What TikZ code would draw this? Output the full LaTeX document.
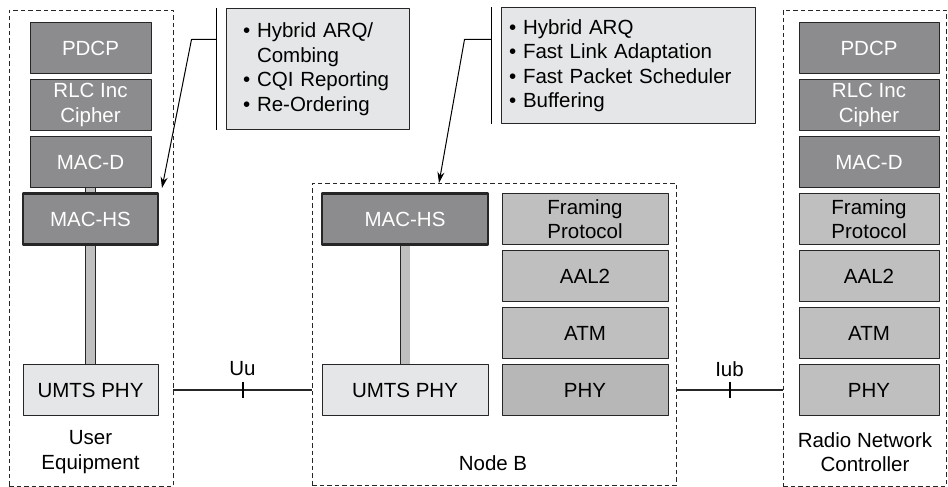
\documentclass[tikz,border=0pt]{standalone}
\usepackage{fontspec}
\setmainfont{Liberation Sans}
\usetikzlibrary{positioning,arrows.meta,backgrounds}
\definecolor{dkgray}{RGB}{140,140,142}
\definecolor{mdgray}{RGB}{191,191,192}
\definecolor{phgray}{RGB}{183,183,184}
\definecolor{ltgray}{RGB}{229,230,231}

\begin{document}
\begin{tikzpicture}[x=1pt,y=-1pt,font=\fontsize{20.5}{24.5}\selectfont,line join=round,>={Stealth[length=11pt,width=7pt]},
  lay/.style={draw=black!85,line width=0.8,minimum height=51,inner sep=0,align=center},
  dk/.style={lay,fill=dkgray,text=white},
  md/.style={lay,fill=mdgray},
  ph/.style={lay,fill=phgray},
  lt/.style={lay,fill=ltgray},
  hs/.style={dk,line width=2.4},
  zone/.style={draw=black!85,line width=0.9,dash pattern=on 4.5pt off 3pt,inner sep=0},
  bar/.style={draw=black!85,line width=0.7,double=mdgray,double distance=9pt},
  link/.style={draw=black!85,line width=1.3},
  note/.style={draw=black!85,line width=1,fill=ltgray,align=left,inner ysep=0pt}]
\useasboundingbox (0,0) rectangle (948,487);
% equipment frames
\node[zone,minimum width=164,minimum height=476] (ue) at (91,248) {};
\node[zone,minimum width=364,minimum height=302] (nb) at (494,334) {};
\node[zone,minimum width=163,minimum height=476] (rnc) at (864.5,248) {};
\node[align=center] (uename) at (90.5,452) {User\\Equipment};
\node (nbname) at (493,463) {Node B};
\node[align=center] (rncname) at (865,452) {Radio Network\\Controller};
% user equipment stack
\foreach \t/\s [count=\i] in {PDCP/dk,{RLC Inc\\Cipher}/dk,MAC-D/dk}
  \node[\s,minimum width=121] (ue\i) at (90.5,{48+57*(\i-1)}) {\t};
\node[hs,minimum width=135] (uehs) at (90.5,219) {MAC-HS};
\node[lt,minimum width=135] (uephy) at (90.5,390) {UMTS PHY};
% node b stacks
\node[hs,minimum width=166] (nbhs) at (405,219) {MAC-HS};
\node[lt,minimum width=166] (nbphy) at (405,390) {UMTS PHY};
\foreach \t/\s [count=\i from 4] in {{Framing\\Protocol}/md,AAL2/md,ATM/md,PHY/ph}
  \node[\s,minimum width=166] (nb\i) at (585,{48+57*(\i-1)}) {\t};
% rnc stack
\foreach \t/\s [count=\i] in {PDCP/dk,{RLC Inc\\Cipher}/dk,MAC-D/dk,{Framing\\Protocol}/md,AAL2/md,ATM/md,PHY/md}
  \node[\s,minimum width=140] (rnc\i) at (869,{48+57*(\i-1)}) {\t};
\begin{scope}[on background layer]
\draw[bar] (ue3) -- (uehs);
\draw[bar] (uehs) -- (uephy);
\draw[bar] (nbhs) -- (nbphy);
\end{scope}
% interfaces
\draw[link] (uephy -| ue.east) -- coordinate[midway] (uu) (uephy -| nb.west);
\draw[link] (nb7 -| nb.east) -- coordinate[midway] (iub) (nb7 -| rnc.west);
\foreach \p/\l in {uu/Uu,iub/Iub}
  \draw[line width=2] (\p) ++(0,-8) -- ++(0,16) (\p)+(0,-21) node{\l};
% feature notes
\node[note,text width=149pt,inner xsep=17pt,minimum height=120] (uenote) at (317.5,69)
  {\textbullet\ Hybrid ARQ/\\\phantom{\textbullet\ }Combing\\\textbullet\ CQI Reporting\\\textbullet\ Re-Ordering};
\node[note,text width=238pt,inner xsep=8pt,minimum height=115] (nbnote) at (628,65.5)
  {\textbullet\ Hybrid ARQ\\\textbullet\ Fast Link Adaptation\\\textbullet\ Fast Packet Scheduler\\\textbullet\ Buffering};
\path
(162,188) coordinate (uetip)
(439,183) coordinate (nbtip)
;
\draw[line width=1]
([xshift=-9pt]uenote.north west) -- ([xshift=-9pt]uenote.south west)
([xshift=-9pt]nbnote.north west) -- ([xshift=-9pt]nbnote.south west)
;
\draw[->,line width=1] ([shift={(-9,31)}]uenote.north west) -- ++(-25,0) -- (uetip);
\draw[->,line width=1] ([shift={(-9,32)}]nbnote.north west) -- ++(-27,0) -- (nbtip);
\end{tikzpicture}
\end{document}
